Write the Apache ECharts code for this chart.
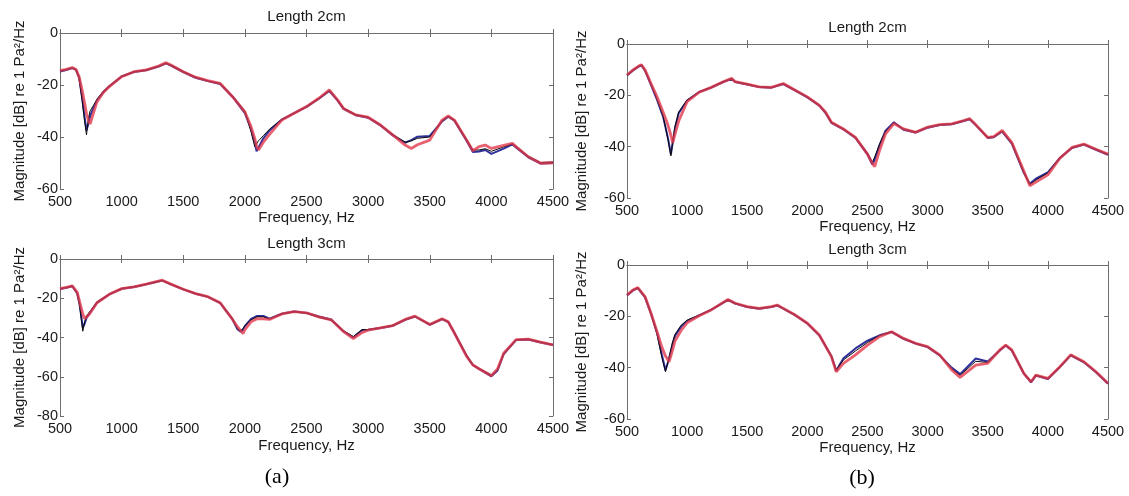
<!DOCTYPE html>
<html>
<head>
<meta charset="utf-8">
<script src="https://cdn.jsdelivr.net/npm/echarts@6/dist/echarts.min.js"></script>
<style>
html,body{margin:0;padding:0;background:#fff;}
#chart{width:1129px;height:496px;}
</style>
</head>
<body>
<div id="chart"></div>
<script>
// ---------- data (frequency in Hz, magnitude in dB) ----------
var xTicks = [500, 1000, 1500, 2000, 2500, 3000, 3500, 4000, 4500];
var titles = ['Length 2cm', 'Length 2cm', 'Length 3cm', 'Length 3cm'];
var panelLabels = ['(a)', '(b)'];

// (a) Length 2cm
var a1Freq = [500,550,600,630,655,680,700,715,730,744,770,800,850,900,1000,1100,1200,1300,1360,1400,1500,1600,1700,1800,1900,2000,2050,2080,2095,2110,2150,2200,2300,2400,2500,2600,2685,2750,2800,2900,3000,3100,3200,3300,3350,3400,3500,3600,3650,3700,3800,3850,3900,3950,4000,4100,4170,4200,4300,4400,4500];
var a1Red = [-14.5,-14.0,-13.3,-14.0,-16.8,-22.0,-27.0,-31.0,-33.5,-35.0,-31.0,-26.5,-23.0,-20.6,-16.8,-14.9,-14.2,-12.7,-11.4,-12.3,-14.9,-17.0,-18.3,-19.4,-24.5,-30.3,-36.0,-40.5,-43.5,-45.0,-42.0,-39.0,-33.5,-30.9,-28.3,-25.1,-21.9,-25.6,-29.0,-31.5,-32.4,-35.4,-39.2,-43.1,-44.4,-43.0,-41.2,-33.5,-31.9,-33.5,-41.2,-45.3,-43.7,-43.1,-44.4,-43.2,-42.4,-43.7,-47.6,-50.1,-49.9];
var a1Blue = [-14.8,-14.2,-13.5,-14.2,-17.2,-25.0,-32.5,-37.5,-35.0,-32.0,-29.0,-25.8,-22.8,-20.5,-16.7,-15.0,-14.3,-12.9,-11.7,-12.5,-15.0,-17.2,-18.5,-19.6,-24.5,-30.8,-37.0,-42.0,-45.5,-45.8,-40.5,-37.5,-33.3,-30.8,-28.4,-25.3,-22.3,-25.8,-29.2,-31.6,-32.6,-35.5,-39.4,-42.2,-41.2,-39.9,-39.6,-34.0,-32.2,-33.7,-41.5,-45.8,-45.6,-45.0,-46.5,-44.5,-42.8,-44.0,-47.8,-50.2,-50.0];
var a1Black = [-14.5,-14.0,-13.3,-14.0,-17.5,-26.0,-34.0,-39.2,-33.0,-30.0,-28.0,-25.5,-22.5,-20.4,-16.6,-14.9,-14.2,-12.8,-11.6,-12.4,-14.8,-17.0,-18.4,-19.4,-24.2,-30.0,-38.0,-43.7,-43.0,-41.5,-39.5,-37.0,-33.2,-30.8,-28.3,-25.2,-22.2,-25.6,-28.8,-31.4,-32.4,-35.2,-39.0,-42.0,-41.5,-40.5,-40.0,-33.8,-32.0,-33.5,-41.0,-45.0,-45.0,-44.5,-45.5,-43.8,-42.6,-43.7,-47.4,-49.8,-49.6];

// (b) Length 2cm
var b1Freq = [500,550,600,620,650,700,750,800,840,865,880,900,930,1000,1100,1200,1300,1370,1400,1500,1600,1700,1800,1900,2000,2100,2150,2200,2300,2400,2500,2540,2560,2600,2650,2720,2800,2900,3000,3100,3200,3300,3350,3400,3500,3550,3620,3700,3800,3850,3900,4000,4100,4200,4300,4400,4500];
var b1Red = [-12.1,-10.1,-8.5,-8.1,-10.1,-15.4,-20.6,-26.5,-31.5,-35.5,-38.5,-35.0,-30.0,-22.5,-18.8,-16.9,-14.7,-13.4,-14.7,-15.6,-16.7,-16.9,-15.4,-18.0,-20.6,-23.9,-26.5,-30.5,-33.1,-36.4,-42.9,-46.5,-47.8,-41.5,-35.0,-31.0,-33.1,-34.4,-32.4,-31.4,-31.1,-29.8,-29.1,-31.4,-36.4,-36.1,-33.7,-38.3,-49.5,-55.2,-53.8,-51.0,-44.5,-40.3,-39.0,-41.0,-42.9];
var b1Blue = [-12.3,-10.3,-8.7,-8.3,-10.4,-16.0,-21.8,-28.3,-36.5,-43.0,-38.5,-32.5,-27.0,-22.0,-18.7,-17.0,-14.8,-13.6,-14.8,-15.8,-16.8,-17.0,-15.6,-18.2,-20.8,-24.0,-26.8,-30.7,-33.3,-36.6,-43.0,-47.0,-45.0,-39.5,-33.8,-30.5,-33.4,-34.5,-32.6,-31.6,-31.3,-30.0,-29.3,-31.6,-36.6,-36.3,-34.1,-38.8,-50.2,-54.5,-52.5,-50.0,-44.4,-40.5,-39.2,-41.2,-43.2];
var b1Black = [-12.1,-10.1,-8.5,-8.1,-10.2,-15.8,-21.5,-28.0,-37.0,-43.6,-38.0,-32.0,-26.5,-21.8,-18.6,-16.9,-14.7,-13.5,-14.7,-15.6,-16.7,-16.9,-15.4,-18.0,-20.6,-23.9,-26.5,-30.5,-33.1,-36.4,-42.5,-46.0,-44.0,-39.0,-34.0,-30.8,-33.1,-34.2,-32.4,-31.4,-31.1,-29.8,-29.1,-31.4,-36.4,-36.1,-33.9,-38.6,-50.0,-54.8,-53.0,-50.2,-44.2,-40.3,-39.0,-41.0,-42.9];

// (a) Length 3cm
var a2Freq = [500,550,600,640,660,685,700,715,740,800,900,1000,1100,1200,1330,1400,1500,1600,1700,1800,1900,1940,1965,1985,2000,2050,2100,2150,2200,2300,2400,2500,2600,2700,2800,2880,2950,3000,3100,3200,3300,3380,3500,3600,3650,3700,3800,3850,3900,4000,4050,4100,4200,4300,4400,4500];
var a2Red = [-15.1,-14.5,-13.7,-17.0,-22.0,-28.0,-30.5,-31.0,-28.0,-22.3,-18.0,-15.1,-14.2,-12.8,-10.8,-12.8,-15.4,-17.6,-19.2,-22.3,-30.8,-34.5,-36.5,-38.0,-36.0,-32.0,-30.5,-30.5,-30.8,-28.0,-26.8,-27.4,-29.5,-31.0,-37.0,-40.5,-37.5,-36.3,-35.1,-33.9,-30.8,-29.1,-33.4,-30.5,-32.0,-37.7,-49.7,-54.0,-55.9,-59.5,-56.0,-48.0,-41.1,-40.8,-42.3,-43.7];
var a2Blue = [-15.3,-14.7,-13.9,-17.6,-23.5,-35.0,-33.0,-30.0,-27.5,-22.2,-18.0,-15.2,-14.3,-12.9,-11.0,-12.9,-15.5,-17.7,-19.3,-22.5,-30.8,-35.8,-37.0,-36.0,-34.2,-30.5,-29.0,-29.0,-30.4,-27.9,-26.7,-27.5,-29.3,-30.8,-36.8,-40.0,-36.3,-36.1,-35.2,-34.0,-31.0,-29.3,-33.5,-30.6,-32.1,-37.7,-49.5,-54.0,-56.0,-59.8,-56.8,-48.4,-41.3,-41.0,-42.5,-43.8];
var a2Black = [-15.1,-14.5,-13.7,-17.5,-24.0,-36.8,-32.0,-29.0,-27.0,-22.0,-17.9,-15.0,-14.1,-12.8,-10.9,-12.8,-15.3,-17.5,-19.2,-22.3,-30.5,-35.5,-36.5,-35.5,-34.0,-31.0,-29.5,-29.5,-30.6,-28.0,-26.8,-27.6,-29.8,-31.2,-36.5,-39.5,-36.0,-36.0,-35.0,-33.8,-30.8,-29.2,-33.3,-30.5,-32.0,-37.5,-49.0,-53.8,-55.8,-59.0,-56.5,-48.5,-41.2,-40.8,-42.3,-43.6];

// (b) Length 3cm
var b2Freq = [500,550,590,650,700,750,790,820,850,880,900,950,1000,1100,1200,1340,1400,1500,1600,1700,1750,1800,1900,2000,2100,2200,2240,2300,2400,2500,2600,2700,2800,2900,3000,3100,3200,3270,3400,3500,3600,3650,3700,3800,3860,3900,4000,4100,4190,4300,4400,4500];
var b2Red = [-11.7,-9.7,-8.8,-12.3,-18.8,-26.0,-32.0,-35.5,-37.7,-33.0,-29.5,-25.5,-22.5,-19.8,-17.5,-13.4,-14.9,-16.2,-16.9,-16.2,-15.6,-16.9,-19.5,-22.7,-27.3,-35.7,-41.6,-38.3,-35.0,-31.2,-27.9,-26.0,-28.6,-30.5,-31.8,-35.0,-40.9,-43.8,-39.0,-38.3,-33.1,-31.2,-33.1,-42.2,-45.5,-42.9,-44.2,-39.6,-35.0,-37.7,-41.6,-46.1];
var b2Blue = [-11.9,-9.9,-9.0,-12.6,-19.0,-26.5,-35.0,-41.0,-36.5,-30.5,-27.5,-24.0,-21.8,-19.6,-17.5,-13.6,-15.0,-16.4,-17.0,-16.4,-15.8,-17.0,-19.6,-22.8,-27.5,-35.6,-41.2,-36.3,-32.5,-29.5,-27.4,-26.1,-28.8,-30.6,-32.0,-35.2,-40.0,-42.5,-36.4,-37.6,-33.3,-31.4,-33.3,-42.3,-45.7,-43.1,-44.4,-39.8,-35.2,-37.9,-41.8,-46.3];
var b2Black = [-11.7,-9.7,-8.8,-12.4,-19.2,-27.0,-36.0,-41.6,-36.0,-30.0,-27.0,-23.5,-21.5,-19.5,-17.4,-13.5,-14.9,-16.2,-16.9,-16.2,-15.6,-16.9,-19.5,-22.7,-27.3,-35.5,-41.0,-37.0,-33.5,-30.2,-27.5,-26.0,-28.6,-30.5,-31.8,-35.0,-40.5,-43.0,-37.5,-38.0,-33.1,-31.2,-33.1,-42.0,-45.3,-42.9,-44.2,-39.6,-35.0,-37.7,-41.6,-46.0];

var yMins = [-60, -60, -80, -60];

// ---------- layout ----------
var FONT = '"Liberation Sans", Arial, sans-serif';
var TXT = '#1a1a1a';
var AX = '#6e6e6e';
var grids = [
  {left: 60,  top: 33,  width: 493, height: 156},
  {left: 627, top: 44,  width: 481, height: 154},
  {left: 60,  top: 259, width: 493, height: 157},
  {left: 627, top: 265, width: 481, height: 154}
];
var xNameGaps = [18, 15, 22, 21];
var yNameGaps = [33, 38, 33, 38];
var titleY = [17, 28, 244, 250];

var panels = [
  {f: a1Freq, r: a1Red, b: a1Blue, k: a1Black},
  {f: b1Freq, r: b1Red, b: b1Blue, k: b1Black},
  {f: a2Freq, r: a2Red, b: a2Blue, k: a2Black},
  {f: b2Freq, r: b2Red, b: b2Blue, k: b2Black}
];

function zip(f, v) { return f.map(function (x, i) { return [x, v[i]]; }); }
function plain(v) { return String(v); }

var xAxes = [], yAxes = [], series = [], graphics = [];
grids.forEach(function (g, i) {
  var common = {
    gridIndex: i, type: 'value', min: xTicks[0], max: xTicks[xTicks.length - 1], interval: 500,
    axisLine: {show: true, lineStyle: {color: AX, width: 1}},
    axisTick: {show: true, inside: true, length: 4, lineStyle: {color: AX}},
    splitLine: {show: false}
  };
  xAxes.push(Object.assign({}, common, {
    position: 'bottom',
    name: 'Frequency, Hz', nameLocation: 'middle', nameGap: xNameGaps[i],
    nameTextStyle: {fontFamily: FONT, fontSize: 15, color: TXT},
    axisLabel: {show: true, margin: 5, fontFamily: FONT, fontSize: 14.5, color: TXT, formatter: plain}
  }));
  xAxes.push(Object.assign({}, common, {position: 'top', axisLabel: {show: false}}));
  var ycommon = {
    gridIndex: i, type: 'value', min: yMins[i], max: 0, interval: 20,
    axisLine: {show: true, lineStyle: {color: AX, width: 1}},
    axisTick: {show: true, inside: true, length: 4, lineStyle: {color: AX}},
    splitLine: {show: false}
  };
  yAxes.push(Object.assign({}, ycommon, {
    position: 'left',
    name: 'Magnitude [dB] re 1 Pa\u00B2/Hz', nameLocation: 'middle', nameGap: yNameGaps[i],
    nameTextStyle: {fontFamily: FONT, fontSize: 15, color: TXT},
    axisLabel: {show: true, margin: 2, fontFamily: FONT, fontSize: 14.5, color: TXT, formatter: plain}
  }));
  yAxes.push(Object.assign({}, ycommon, {position: 'right', axisLabel: {show: false}}));

  var p = panels[i];
  var base = {type: 'line', xAxisIndex: 2 * i, yAxisIndex: 2 * i, showSymbol: false, symbol: 'none', silent: true, animation: false};
  series.push(Object.assign({}, base, {name: 'blue', data: zip(p.f, p.b), lineStyle: {color: '#2f2f9c', width: 2}, z: 2}));
  series.push(Object.assign({}, base, {name: 'black', data: zip(p.f, p.k), lineStyle: {color: '#0a0a0a', width: 1}, z: 3}));
  series.push(Object.assign({}, base, {name: 'red', data: zip(p.f, p.r), lineStyle: {color: '#e23a4c', width: 2.8, opacity: 0.8}, z: 4}));

  graphics.push({type: 'text', x: g.left + g.width / 2, y: titleY[i],
    style: {text: titles[i], font: '15px ' + FONT, fill: TXT, textAlign: 'center', textVerticalAlign: 'middle'}});
});
graphics.push({type: 'text', x: 277, y: 477,
  style: {text: panelLabels[0], font: '22px "Liberation Serif", "Times New Roman", serif', fill: '#000', textAlign: 'center', textVerticalAlign: 'middle'}});
graphics.push({type: 'text', x: 862, y: 478,
  style: {text: panelLabels[1], font: '22px "Liberation Serif", "Times New Roman", serif', fill: '#000', textAlign: 'center', textVerticalAlign: 'middle'}});

var chart = echarts.init(document.getElementById('chart'), null, {renderer: 'canvas'});
chart.setOption({
  backgroundColor: '#fff',
  animation: false,
  grid: grids.map(function (g) { return Object.assign({containLabel: false}, g); }),
  xAxis: xAxes,
  yAxis: yAxes,
  series: series,
  graphic: graphics
});
</script>
</body>
</html>
